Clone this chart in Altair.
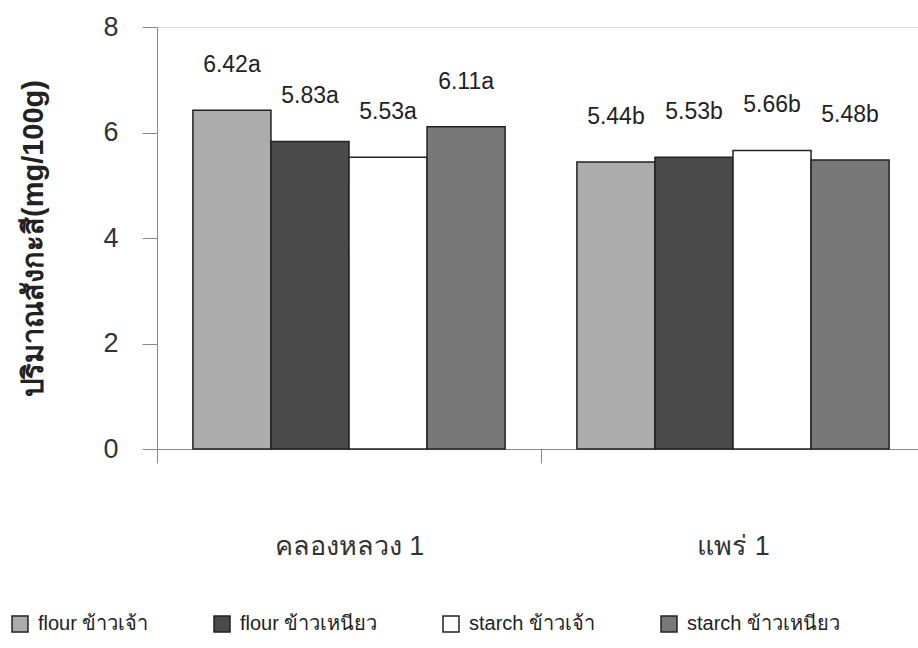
import altair as alt
import pandas as pd

groups = ["คลองหลวง 1", "แพร่ 1"]
series = ["flour ข้าวเจ้า", "flour ข้าวเหนียว", "starch ข้าวเจ้า", "starch ข้าวเหนียว"]
values_g1 = [6.42, 5.83, 5.53, 6.11]
values_g2 = [5.44, 5.53, 5.66, 5.48]
letters_g1 = ["a", "a", "a", "a"]
letters_g2 = ["b", "b", "b", "b"]
colors = ["#acacac", "#4a4a4a", "#ffffff", "#787878"]

rows = []
for g, vals, lets in [(groups[0], values_g1, letters_g1), (groups[1], values_g2, letters_g2)]:
    for s, v, l in zip(series, vals, lets):
        rows.append({"group": g, "series": s, "value": v, "label": f"{v:.2f}{l}"})
df = pd.DataFrame(rows)

FONT = "Liberation Sans"

x = alt.X("group:N", sort=groups, title=None,
          scale=alt.Scale(paddingInner=0, paddingOuter=0, range=[0, 768]),
          axis=alt.Axis(tickBand="extent", labelAngle=0, labelFontSize=27,
                        labelFont=FONT, labelColor="#333333", labelPadding=70,
                        tickSize=14, tickColor="#888888", domainColor="#888888",
                        domainWidth=1, tickWidth=1))
xo = alt.XOffset("series:N", sort=series,
                 scale=alt.Scale(paddingInner=0, paddingOuter=0.46))
y = alt.Y("value:Q", scale=alt.Scale(domain=[0, 8]),
          title="ปริมาณสังกะสี(mg/100g)",
          axis=alt.Axis(values=[0, 2, 4, 6, 8], grid=False, labelFontSize=27,
                        labelFont=FONT, labelColor="#333333", labelPadding=24,
                        tickSize=15, tickColor="#888888", domainColor="#888888",
                        titleFontSize=29, titleFont=FONT, titleFontWeight="bold",
                        titleColor="#222222", titleX=-124, titleY=211,
                        titleAngle=-90, titleAlign="center", titleBaseline="middle"))

bars = alt.Chart(df).mark_bar(stroke="#222222", strokeWidth=1.5).encode(
    x=x, xOffset=xo, y=y,
    color=alt.Color("series:N", sort=series,
                    scale=alt.Scale(domain=series, range=colors),
                    legend=alt.Legend(title=None, orient="none", direction="horizontal",
                                      legendX=-147, legendY=587,
                                      symbolType="square", symbolSize=256,
                                      symbolStrokeColor="#222222", symbolStrokeWidth=1.5,
                                      labelFontSize=20, labelFont=FONT,
                                      labelColor="#222222", columnPadding=62,
                                      labelOffset=8, labelLimit=300)),
)

labels = alt.Chart(df).mark_text(dy=-45, baseline="middle", align="center",
                                 fontSize=23, font=FONT, color="#222222").encode(
    x=alt.X("group:N", sort=groups, scale=alt.Scale(paddingInner=0, paddingOuter=0, range=[0, 768])),
    xOffset=xo,
    y=alt.Y("value:Q"),
    text="label:N",
)

chart = alt.layer(bars, labels).properties(
    width=761, height=422,
    autosize=alt.AutoSizeParams(type="none"),
    padding={"left": 157, "top": 27, "right": 0, "bottom": 199},
).configure_view(stroke=None).configure(background="white")

chart.save("out.html", embed_options={"renderer": "svg", "actions": False})
